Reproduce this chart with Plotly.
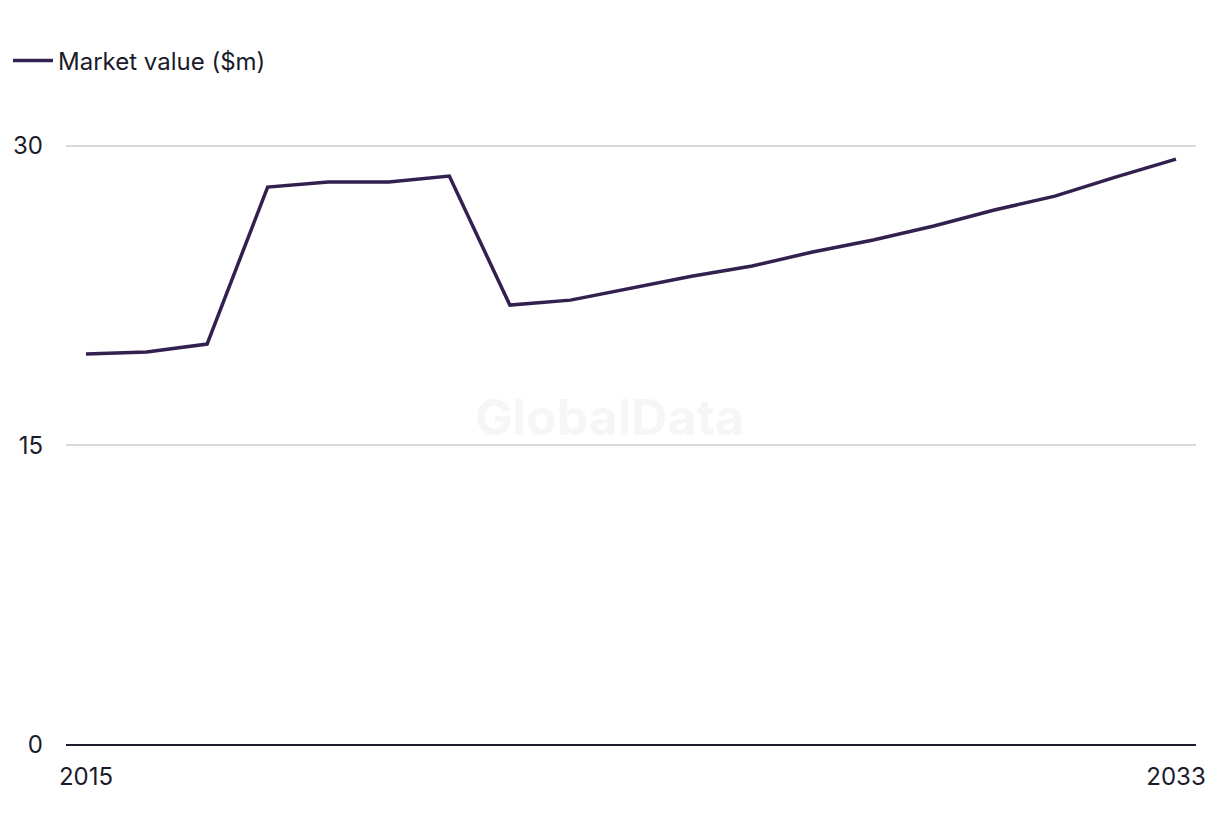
import plotly.graph_objects as go

years = list(range(2015, 2034))
market_value = [19.58, 19.68, 20.08, 27.94, 28.19, 28.19, 28.49, 22.03, 22.28, 22.88,
                23.48, 23.99, 24.69, 25.29, 25.99, 26.79, 27.49, 28.44, 29.34]
series_name = "Market value ($m)"
y_ticks = [0, 15, 30]
x_ticks = [2015, 2033]

FONT = "Inter, Liberation Sans, sans-serif"
TEXT = "#1b1b2b"

fig = go.Figure()
fig.add_trace(go.Scatter(
    x=years, y=market_value, mode="lines", name=series_name,
    line=dict(color="#33204f", width=3.5),
    showlegend=True,
))

fig.add_annotation(
    text="<b>GlobalData</b>", x=0.481, y=0.53, xref="paper", yref="paper",
    showarrow=False, font=dict(family=FONT, size=50, color="#f6f6f6"),
)

fig.update_layout(
    width=1220, height=836,
    margin=dict(l=58, r=32, t=118, b=99, autoexpand=False),
    paper_bgcolor="white", plot_bgcolor="white",
    font=dict(family=FONT, size=24, color=TEXT),
    showlegend=True,
    legend=dict(
        xref="container", yref="container", x=0, y=0.9366,
        xanchor="left", yanchor="middle", orientation="h",
        font=dict(family=FONT, size=24, color=TEXT),
        itemwidth=40,
    ),
    xaxis=dict(
        range=[2014.67, 2033.33], tickvals=x_ticks, ticktext=[str(v) for v in x_ticks],
        showgrid=False, zeroline=False, showline=False, ticks="",
        ticklabelstandoff=15, automargin=False,
        tickfont=dict(family=FONT, size=24, color=TEXT),
    ),
    yaxis=dict(
        range=[0, 31], tickvals=y_ticks, ticktext=[str(v) for v in y_ticks],
        showgrid=True, gridcolor="#d9d9d9", gridwidth=2,
        zeroline=True, zerolinecolor="#1c1c2c", zerolinewidth=2,
        showline=False, ticks="", ticklabelstandoff=22, automargin=False,
        tickfont=dict(family=FONT, size=24, color=TEXT),
    ),
    hovermode=False,
)

fig.write_html("out.html")
